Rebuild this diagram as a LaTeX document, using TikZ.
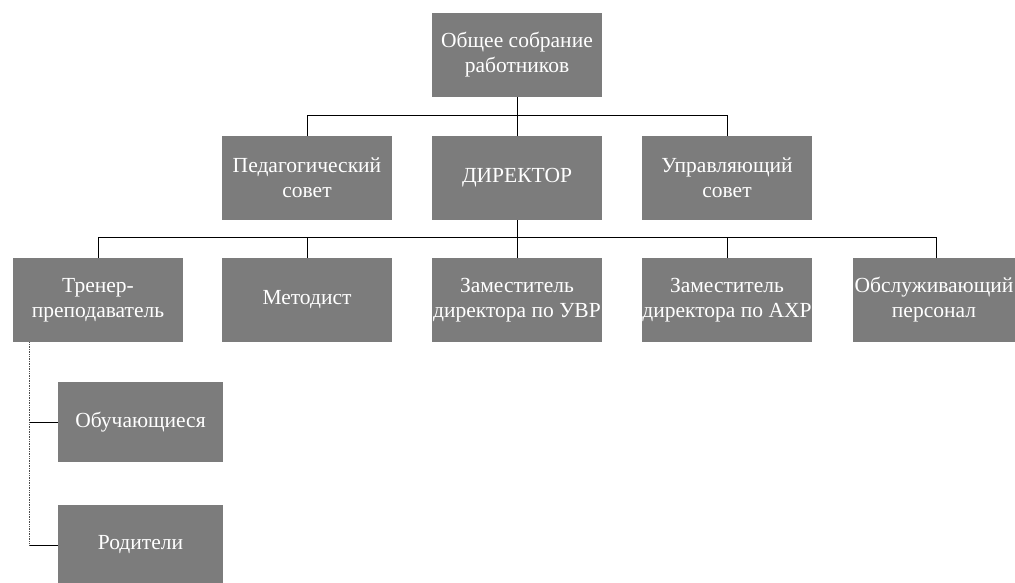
\documentclass[tikz,border=0pt]{standalone}
\usepackage{fontspec}
\setmainfont{Liberation Serif}
\definecolor{boxgray}{RGB}{124,124,124}

\begin{document}
\begin{tikzpicture}[x=1pt, y=-1pt,
		unit/.style={fill=boxgray, text=white, minimum width=170pt, minimum height=84pt, inner sep=0pt, align=center, font=\fontsize{21.5}{25}\selectfont},
		link/.style={draw=black, line width=0.7pt},
		dotlink/.style={draw=black!70, line width=0.7pt, densely dotted}]
		\useasboundingbox (0, 0) rectangle (1015, 583);
		
		\node[unit] (meeting) at (517, 55) {Общее собрание\\работников};
		
		\node[unit] (pedsovet) at (307, 178) {Педагогический\\совет};
		\node[unit] (director) at (517, 178) {ДИРЕКТОР};
		\node[unit] (upsovet) at (727, 178) {Управляющий\\совет};
		
		\node[unit] (trainer) at (98, 300) {Тренер-\\преподаватель};
		\node[unit] (methodist) at (307, 300) {Методист};
		\node[unit] (deputyuvr) at (517, 300) {Заместитель\\директора по УВР};
		\node[unit] (deputyahr) at (727, 300) {Заместитель\\директора по АХР};
		\node[unit, minimum width=162pt] (staff) at (934, 300) {Обслуживающий\\персонал};
		
		\node[unit, minimum width=165pt, minimum height=80pt] (pupils) at (140.5, 422) {Обучающиеся};
		\node[unit, minimum width=165pt, minimum height=80pt] (parents) at (140.5, 545) {Родители};
		
		\coordinate (bus1) at (517, 115);
		\coordinate (bus2) at (517, 237);
		\coordinate (tap) at ([xshift=17pt]trainer.south west);
		
		\draw[link] (meeting.south) -- (bus1);
		\draw[link] (director.north) -- (bus1);
		\draw[link] (pedsovet.north) |- (bus1);
		\draw[link] (upsovet.north) |- (bus1);
		
		\draw[link] (director.south) -- (bus2);
		\draw[link] (trainer.north) |- (bus2);
		\draw[link] (methodist.north) |- (bus2);
		\draw[link] (deputyuvr.north) -- (bus2);
		\draw[link] (deputyahr.north) |- (bus2);
		\draw[link] ([xshift=2pt]staff.north) |- (bus2);
		
		\draw[dotlink] (tap) -- (tap |- parents.west);
		\draw[link] (tap |- pupils.west) -- (pupils.west);
		\draw[link] (tap |- parents.west) -- (parents.west);
	\end{tikzpicture}
\end{document}
